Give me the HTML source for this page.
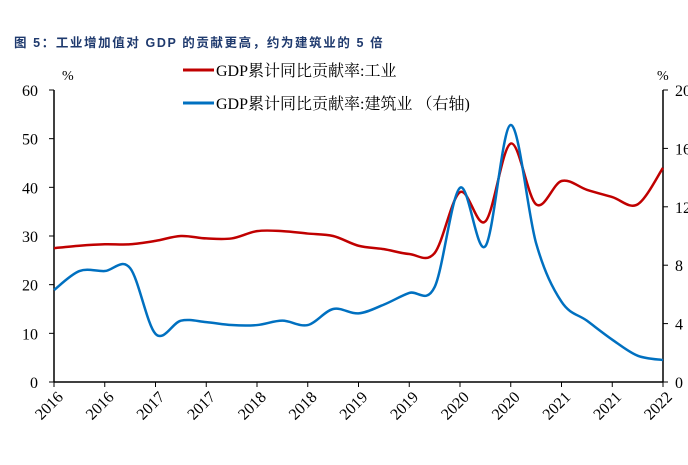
<!DOCTYPE html>
<html><head><meta charset="utf-8"><style>
body{margin:0;background:#fff;width:688px;height:460px;overflow:hidden}
svg text{font-family:"Liberation Serif","Noto Serif CJK SC",serif}
</style></head><body>
<svg id="c" width="688" height="460">
<text x="14" y="47" style="font-family:'Liberation Sans','Noto Sans CJK SC',sans-serif;font-weight:bold;font-size:12.5px;letter-spacing:1.6px;fill:#1f3a6e">图 5：工业增加值对 GDP 的贡献更高，约为建筑业的 5 倍</text>
<g>
<line x1="183" y1="70" x2="214" y2="70" stroke="#c00000" stroke-width="3"/>
<text x="216" y="76" font-size="16">GDP累计同比贡献率:工业</text>
<line x1="183" y1="103" x2="214" y2="103" stroke="#0070c0" stroke-width="3"/>
<text x="216" y="109" font-size="16">GDP累计同比贡献率:建筑业 （右轴)</text>
</g>
<text x="62" y="80" font-size="14">%</text>
<text x="657" y="80" font-size="14">%</text>
<g id="axes"></g><g id="series"></g>
</svg>
<script>
const xLabels=["2016","2016","2017","2017","2018","2018","2019","2019","2020","2020","2021","2021","2022"];
const leftTicks=[0,10,20,30,40,50,60];
const rightTicks=[0,4,8,12,16,20];
const xPos=[0,0.5,1,1.5,2,2.5,3,3.5,4,4.5,5,5.5,6,6.5,7,7.5,8,8.5,9,9.5,10,10.5,11,11.5,12];
const industry=[27.5,28,28.3,28.3,29,30,29.5,29.5,31,31,30.5,30,28,27.3,26.3,26.5,39,33,49,36.5,41.3,39.5,38,36.5,44];
const construction=[6.3,7.6,7.6,7.8,3.3,4.2,4.1,3.9,3.9,4.2,3.9,5,4.7,5.3,6.1,6.5,13.3,9.3,17.6,9.5,5.5,4.2,2.9,1.8,1.5];
const NS="http://www.w3.org/2000/svg";
const X0=54,X1=663,Y0=382,Y1=90;
const xs=i=>X0+i*(X1-X0)/12, yl=v=>Y0-v*(Y0-Y1)/60, yr=v=>Y0-v*(Y0-Y1)/20;
const ax=document.getElementById('axes'),se=document.getElementById('series');
function mk(t,a,p){const e=document.createElementNS(NS,t);for(const k in a)e.setAttribute(k,a[k]);p.appendChild(e);return e;}
let e;
e=mk('line',{x1:X0,y1:Y1,x2:X0,y2:Y0,stroke:'#000','stroke-width':1.5},ax);


e=mk('line',{x1:X1,y1:Y1,x2:X1,y2:Y0,stroke:'#000','stroke-width':1.5},ax);


e=mk('line',{x1:X0,y1:Y0,x2:X1,y2:Y0,stroke:'#000','stroke-width':1.5},ax);


leftTicks.forEach(v=>{mk('line',{x1:X0-5,y1:yl(v),x2:X0,y2:yl(v),stroke:'#000'},ax);
e=mk('text',{x:X0-16,y:yl(v)+6,'font-size':16,'text-anchor':'end'},ax);e.textContent=v;

});
rightTicks.forEach(v=>{mk('line',{x1:X1,y1:yr(v),x2:X1+5,y2:yr(v),stroke:'#000'},ax);
e=mk('text',{x:X1+12,y:yr(v)+6,'font-size':16},ax);e.textContent=v;

});
xLabels.forEach((l,i)=>{mk('line',{x1:xs(i),y1:Y0,x2:xs(i),y2:Y0+5,stroke:'#000'},ax);
e=mk('text',{x:0,y:0,'font-size':16,'text-anchor':'end',transform:`translate(${xs(i)+10},${Y0+16}) rotate(-45)`},ax);e.textContent=l;

});
function path(pts){let d=`M${pts[0][0]},${pts[0][1]}`;for(let i=0;i<pts.length-1;i++){const p0=pts[i-1]||pts[i],p1=pts[i],p2=pts[i+1],p3=pts[i+2]||p2;
d+=` C${p1[0]+(p2[0]-p0[0])/6},${p1[1]+(p2[1]-p0[1])/6} ${p2[0]-(p3[0]-p1[0])/6},${p2[1]-(p3[1]-p1[1])/6} ${p2[0]},${p2[1]}`;}return d;}
e=mk('path',{d:path(industry.map((v,i)=>[xs(xPos[i]),yl(v)])),fill:'none',stroke:'#c00000','stroke-width':2.5},se);


e=mk('path',{d:path(construction.map((v,i)=>[xs(xPos[i]),yr(v)])),fill:'none',stroke:'#0070c0','stroke-width':2.5},se);


</script>
</body></html>
